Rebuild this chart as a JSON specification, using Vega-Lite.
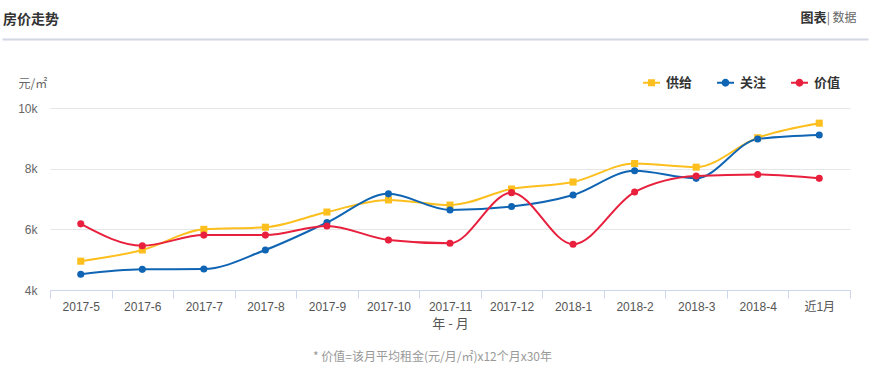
{
  "$schema": "https://vega.github.io/schema/vega-lite/v6.json",
  "autosize": "none",
  "width": 800,
  "height": 182,
  "padding": {"left": 50, "top": 108, "right": 21, "bottom": 84},
  "background": "white",
  "config": {
    "font": "Liberation Sans, Noto Sans CJK SC",
    "view": {"stroke": null},
    "legend": {
      "orient": "none",
      "legendX": 593,
      "legendY": -34,
      "direction": "horizontal",
      "padding": 0,
      "title": null,
      "labelFont": "Noto Sans CJK SC",
      "labelFontSize": 13,
      "labelFontWeight": "bold",
      "labelColor": "#333333",
      "labelOffset": 6,
      "columnPadding": 24,
      "symbolSize": 289,
      "symbolStrokeWidth": 0
    }
  },
  "title": {
    "text": "房价走势",
    "orient": "top",
    "anchor": "start",
    "frame": "group",
    "dx": -47,
    "offset": -23,
    "baseline": "middle",
    "font": "Noto Sans CJK SC",
    "fontSize": 14,
    "fontWeight": "bold",
    "color": "#333333"
  },
  "data": {
    "values": [
      {"month": "2017-5", "series": "供给", "value": 4950},
      {"month": "2017-6", "series": "供给", "value": 5320},
      {"month": "2017-7", "series": "供给", "value": 6000},
      {"month": "2017-8", "series": "供给", "value": 6070},
      {"month": "2017-9", "series": "供给", "value": 6570},
      {"month": "2017-10", "series": "供给", "value": 6970},
      {"month": "2017-11", "series": "供给", "value": 6800},
      {"month": "2017-12", "series": "供给", "value": 7330},
      {"month": "2018-1", "series": "供给", "value": 7560},
      {"month": "2018-2", "series": "供给", "value": 8170},
      {"month": "2018-3", "series": "供给", "value": 8050},
      {"month": "2018-4", "series": "供给", "value": 9020},
      {"month": "近1月", "series": "供给", "value": 9500},
      {"month": "2017-5", "series": "关注", "value": 4520},
      {"month": "2017-6", "series": "关注", "value": 4680},
      {"month": "2017-7", "series": "关注", "value": 4690},
      {"month": "2017-8", "series": "关注", "value": 5320},
      {"month": "2017-9", "series": "关注", "value": 6220},
      {"month": "2017-10", "series": "关注", "value": 7170},
      {"month": "2017-11", "series": "关注", "value": 6640},
      {"month": "2017-12", "series": "关注", "value": 6750},
      {"month": "2018-1", "series": "关注", "value": 7130},
      {"month": "2018-2", "series": "关注", "value": 7930},
      {"month": "2018-3", "series": "关注", "value": 7680},
      {"month": "2018-4", "series": "关注", "value": 8980},
      {"month": "近1月", "series": "关注", "value": 9110},
      {"month": "2017-5", "series": "价值", "value": 6180},
      {"month": "2017-6", "series": "价值", "value": 5460},
      {"month": "2017-7", "series": "价值", "value": 5810},
      {"month": "2017-8", "series": "价值", "value": 5810},
      {"month": "2017-9", "series": "价值", "value": 6110},
      {"month": "2017-10", "series": "价值", "value": 5650},
      {"month": "2017-11", "series": "价值", "value": 5540},
      {"month": "2017-12", "series": "价值", "value": 7210},
      {"month": "2018-1", "series": "价值", "value": 5510},
      {"month": "2018-2", "series": "价值", "value": 7230},
      {"month": "2018-3", "series": "价值", "value": 7760},
      {"month": "2018-4", "series": "价值", "value": 7810},
      {"month": "近1月", "series": "价值", "value": 7680}
    ]
  },
  "layer": [
    {
      "encoding": {
        "x": {
          "field": "month",
          "type": "ordinal",
          "sort": null,
          "bandPosition": 0.5,
          "scale": {"type": "band", "paddingInner": 0, "paddingOuter": 0},
          "axis": {
            "title": "年 - 月",
            "titleFont": "Noto Sans CJK SC",
            "titleFontSize": 13,
            "titleFontWeight": "normal",
            "titleColor": "#555555",
            "titlePadding": 5,
            "labelAngle": 0,
            "labelFontSize": 12,
            "labelColor": "#555555",
            "labelPadding": 3,
            "domainColor": "#ccd6eb",
            "tickColor": "#ccd6eb",
            "tickSize": 8,
            "tickBand": "extent",
            "grid": false
          }
        },
        "y": {
          "field": "value",
          "type": "quantitative",
          "scale": {"domain": [4000, 10000], "nice": false, "zero": false},
          "axis": {
            "values": [4000, 6000, 8000, 10000],
            "labelExpr": "(datum.value / 1000) + 'k'",
            "labelFontSize": 12,
            "labelColor": "#666666",
            "labelPadding": 13,
            "domain": false,
            "ticks": false,
            "gridColor": "#e6e6e6",
            "title": "元/㎡",
            "titleFont": "Noto Sans CJK SC",
            "titleFontSize": 12,
            "titleFontWeight": "normal",
            "titleColor": "#666666",
            "titleAngle": 0,
            "titleAlign": "left",
            "titleBaseline": "middle",
            "titleX": -32,
            "titleY": -25
          }
        },
        "color": {
          "field": "series",
          "type": "nominal",
          "scale": {"domain": ["供给", "关注", "价值"], "range": ["#fcbf1e", "#0f65b4", "#e8203d"]},
          "legend": {
            "encode": {
              "symbols": {
                "update": {
                  "shape": {"signal": "datum.value === '供给' ? 'M-1,-0.12H-0.4V0.12H-1Z M0.4,-0.12H1V0.12H0.4Z M-0.42,-0.42H0.42V0.42H-0.42Z' : 'M-1,-0.12H-0.4V0.12H-1Z M0.4,-0.12H1V0.12H0.4Z M0.46,0A0.46,0.46,0,1,1,-0.46,0A0.46,0.46,0,1,1,0.46,0Z'"},
                  "fill": {"scale": "color", "field": "value"},
                  "strokeWidth": {"value": 0},
                  "opacity": {"value": 1}
                }
              }
            }
          }
        }
      },
      "layer": [
        {"mark": {"type": "line", "interpolate": "monotone", "strokeWidth": 2}},
        {
          "transform": [{"filter": "datum.series === '供给'"}],
          "mark": {"type": "point", "shape": "square", "filled": true, "size": 50, "opacity": 1}
        },
        {
          "transform": [{"filter": "datum.series !== '供给'"}],
          "mark": {"type": "point", "shape": "circle", "filled": true, "size": 50, "opacity": 1}
        }
      ]
    },
    {
      "mark": {"type": "point", "opacity": 0},
      "encoding": {
        "x": {
          "field": "month",
          "type": "ordinal",
          "sort": null,
          "scale": {"type": "band", "paddingInner": 0, "paddingOuter": 0, "range": [-48, 818]},
          "axis": {
            "orient": "top",
            "offset": 69,
            "domainColor": "#d3d6e3",
            "domainWidth": 2,
            "ticks": false,
            "tickSize": 0,
            "grid": false,
            "labelExpr": "datum.label == '近1月' ? '| 数据' : ''",
            "labelAngle": 0,
            "labelAlign": "left",
            "labelBaseline": "middle",
            "labelOffset": -8,
            "labelPadding": 22,
            "labelFont": "Noto Sans CJK SC",
            "labelFontSize": 12,
            "labelColor": "#666666",
            "title": "图表",
            "titleFont": "Noto Sans CJK SC",
            "titleFontSize": 13,
            "titleFontWeight": "bold",
            "titleColor": "#333333",
            "titleAlign": "right",
            "titleBaseline": "middle",
            "titleX": 776,
            "titleY": -22
          }
        },
        "y": {
          "field": "value",
          "type": "quantitative",
          "axis": {
            "orient": "right",
            "domain": false,
            "ticks": false,
            "labels": false,
            "grid": false,
            "title": "* 价值=该月平均租金(元/月/㎡)x12个月x30年",
            "titleFont": "Noto Sans CJK SC",
            "titleFontSize": 12,
            "titleFontWeight": "normal",
            "titleColor": "#999999",
            "titleAngle": 0,
            "titleAlign": "center",
            "titleBaseline": "middle",
            "titleX": -418,
            "titleY": 248
          }
        }
      }
    }
  ],
  "resolve": {"scale": {"x": "independent"}, "axis": {"x": "independent", "y": "independent"}}
}
